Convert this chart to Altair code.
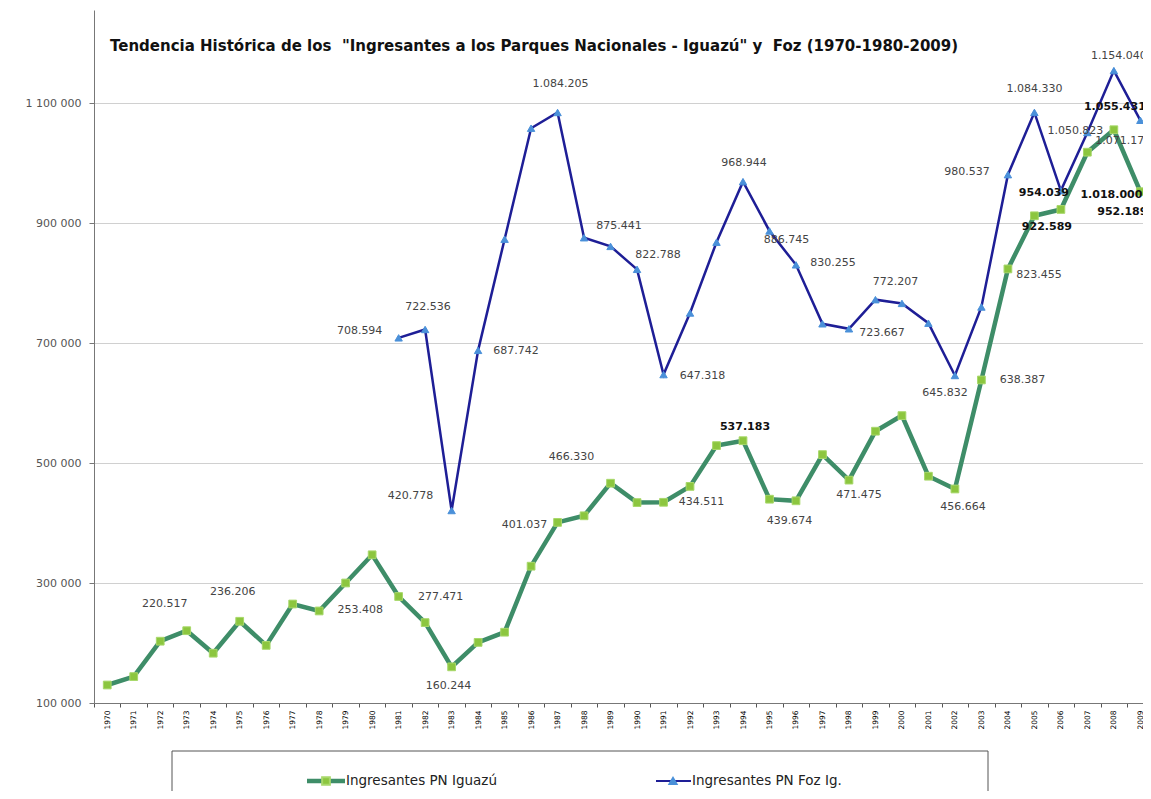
import altair as alt
import pandas as pd

# ---------------- data ----------------
years = list(range(1970, 2010))
iguazu = [130000, 144000, 203000, 220517, 183000, 236206, 196000, 265000, 253408, 300000,
          347000, 277471, 234000, 160244, 201000, 218000, 328000, 401037, 412000, 466330,
          434000, 434511, 461000, 529000, 537183, 439674, 437000, 514000, 471475, 553000,
          579000, 478000, 456664, 638387, 823455, 912000, 922589, 1018000, 1055431, 952189]

foz_years = list(range(1981, 2010))
foz = [708594, 722536, 420778, 687742, 873000, 1058000, 1084205, 875441, 861000, 822788,
       647318, 750000, 868000, 968944, 886745, 830255, 732000, 723667, 772207, 766000,
       733000, 645832, 760000, 980537, 1084330, 954039, 1050823, 1154040, 1071177]

series_names = ["Ingresantes PN Iguazú", "Ingresantes PN Foz Ig."]
title_text = ('Tendencia Histórica de los \u00a0"Ingresantes a los Parques Nacionales - Iguazú" '
              'y \u00a0Foz (1970-1980-2009)')

y_tick_values = [100000, 300000, 500000, 700000, 900000, 1100000]

# labelled points: series index (0 = Iguazú, 1 = Foz), year
label_series = [0] * 18 + [1] * 20
label_years = [1973, 1975, 1978, 1981, 1983, 1987, 1989, 1991, 1994, 1995, 1998, 2002, 2003,
               2004, 2006, 2007, 2008, 2009,
               1981, 1982, 1983, 1984, 1987, 1988, 1990, 1991, 1994, 1995, 1996, 1998, 1999,
               2002, 2004, 2005, 2006, 2007, 2008, 2009]

# label styling (offsets in pixels, bold flag)
label_dx = [-22, -7, 41, 42, -3, -33, -39, 38, 2, 20, 10, 8, 41, 31, -14, 24, 1, -18,
            -39, 3, -41, 38, 3, 35, 21, 39, 1, 17, 37, 33, 20, -10, -41, 0, -17, -12, 5, -17]
label_dy = [-27, -29, -1, 0, 19, 3, -26, 0, -14, 22, 15, 18, 0, 6, 18, 43, -23, 20,
            -7, -22, -15, 1, -28, -12, -14, 1, -19, 9, -2, 4, -18, 17, -3, -23, 2, -2, -15, 21]
label_bold = [False, False, False, False, False, False, False, False, True, False, False, False,
              False, False, True, True, True, True,
              False, False, False, False, False, False, False, False, False, False, False,
              False, False, False, False, False, True, False, False, False]

# ---------------- tables ----------------
df_ig = pd.DataFrame({"year": years, "value": iguazu, "serie": series_names[0]})
df_fz = pd.DataFrame({"year": foz_years, "value": foz, "serie": series_names[1]})

lookup = [dict(zip(years, iguazu)), dict(zip(foz_years, foz))]
lab_rows = []
for i, (s, yr) in enumerate(zip(label_series, label_years)):
    v = lookup[s][yr]
    lab_rows.append({"idx": i, "year": yr, "value": v,
                     "text": f"{v:,}".replace(",", ".")})
df_lab = pd.DataFrame(lab_rows)

GREEN_LINE = "#3e8d68"
GREEN_MARK = "#8cc63f"
BLUE_LINE = "#1e1e96"
BLUE_MARK = "#4a90d9"

x_values = [1969.5 + 0.5 * k for k in range(80)]
x_axis = alt.Axis(values=x_values,
                  labelExpr="(datum.value % 1 == 0) ? ('' + datum.value) : ''",
                  tickOpacity={"condition": {"test": "datum.value % 1 == 0", "value": 0}, "value": 1},
                  tickSize=4, tickColor="#555", domainColor="#777", labelAngle=270,
                  labelAlign="right", labelBaseline="middle",
                  labelFontSize=7.5, labelFont="DejaVu Sans", labelColor="#000",
                  labelPadding=3, grid=False, title=None, labelOverlap=False)
y_axis = alt.Axis(values=y_tick_values,
                  labelExpr="replace(format(datum.value, ','), regexp(',', 'g'), ' ')",
                  grid=True, gridColor="#d0d0d0", gridWidth=1, tickSize=5, tickColor="#777",
                  domainColor="#777", labelFont="DejaVu Sans", labelFontSize=11,
                  labelColor="#555", labelPadding=8, title=None)

x_enc = alt.X("year:Q", scale=alt.Scale(domain=[1969.5, 2009.1], nice=False, zero=False), axis=x_axis)
y_enc = alt.Y("value:Q", scale=alt.Scale(domain=[100000, 1255000], nice=False, zero=False), axis=y_axis)

layers = []
# green series
layers.append(alt.Chart(df_ig).mark_line(color=GREEN_LINE, strokeWidth=4.5).encode(x=x_enc, y=y_enc))
layers.append(alt.Chart(df_ig).mark_point(shape="square", filled=True, size=60, fill=GREEN_MARK,
                                          stroke="#a8d86a", strokeWidth=1, opacity=1)
              .encode(x=x_enc, y=y_enc))
# blue series
layers.append(alt.Chart(df_fz).mark_line(color=BLUE_LINE, strokeWidth=2.5).encode(x=x_enc, y=y_enc))
layers.append(alt.Chart(df_fz).mark_point(shape="triangle-up", filled=True, size=55, fill=BLUE_MARK,
                                          stroke=BLUE_MARK, strokeWidth=1, opacity=1)
              .encode(x=x_enc, y=y_enc))

# data labels
for i in range(len(label_years)):
    bold = label_bold[i]
    layers.append(
        alt.Chart(df_lab).transform_filter(alt.datum.idx == i)
        .mark_text(dx=label_dx[i], dy=label_dy[i], font="DejaVu Sans", fontSize=11,
                   fontWeight="bold" if bold else "normal",
                   color="#111" if bold else "#444", align="center", baseline="middle")
        .encode(x=x_enc, y=y_enc, text="text:N")
    )

# title
layers.append(alt.Chart(pd.DataFrame({"t": [title_text]})).mark_text(
    align="left", baseline="middle", font="DejaVu Sans", fontSize=15,
    fontWeight="bold", color="#111").encode(x=alt.value(16), y=alt.value(36), text="t:N"))

# legend box and items
df_leg = pd.DataFrame({"name": series_names, "k": [0, 1]})
LEG_Y = 771
layers.append(alt.Chart(df_leg).transform_filter(alt.datum.k == 0).mark_rect(
    fill="white", stroke="#555", strokeWidth=1).encode(
    x=alt.value(78), x2=alt.value(894), y=alt.value(741), y2=alt.value(830)))
layers.append(alt.Chart(df_leg).transform_filter(alt.datum.k == 0).mark_rule(
    color=GREEN_LINE, strokeWidth=4.5).encode(x=alt.value(213), x2=alt.value(251), y=alt.value(LEG_Y)))
layers.append(alt.Chart(df_leg).transform_filter(alt.datum.k == 0).mark_point(
    shape="square", filled=True, size=60, fill=GREEN_MARK, stroke="#a8d86a", opacity=1).encode(
    x=alt.value(232), y=alt.value(LEG_Y)))
layers.append(alt.Chart(df_leg).transform_filter(alt.datum.k == 1).mark_rule(
    color=BLUE_LINE, strokeWidth=2).encode(x=alt.value(562), x2=alt.value(597), y=alt.value(LEG_Y)))
layers.append(alt.Chart(df_leg).transform_filter(alt.datum.k == 1).mark_point(
    shape="triangle-up", filled=True, size=50, fill=BLUE_MARK, stroke=BLUE_MARK, opacity=1).encode(
    x=alt.value(579), y=alt.value(LEG_Y)))
layers.append(alt.Chart(df_leg).transform_filter(alt.datum.k == 0).mark_text(
    align="left", baseline="middle", font="DejaVu Sans", fontSize=13.5, color="#222").encode(
    x=alt.value(252), y=alt.value(LEG_Y), text="name:N"))
layers.append(alt.Chart(df_leg).transform_filter(alt.datum.k == 1).mark_text(
    align="left", baseline="middle", font="DejaVu Sans", fontSize=13.5, color="#222").encode(
    x=alt.value(598), y=alt.value(LEG_Y), text="name:N"))

chart = alt.layer(*layers).properties(
    width=1049, height=693,
    autosize=alt.AutoSizeParams(type="none"),
    padding={"left": 86, "top": 2, "right": 0, "bottom": 88},
    background="white",
).configure_view(stroke=None)

chart.save("out.html", embed_options={"renderer": "svg", "actions": False})
